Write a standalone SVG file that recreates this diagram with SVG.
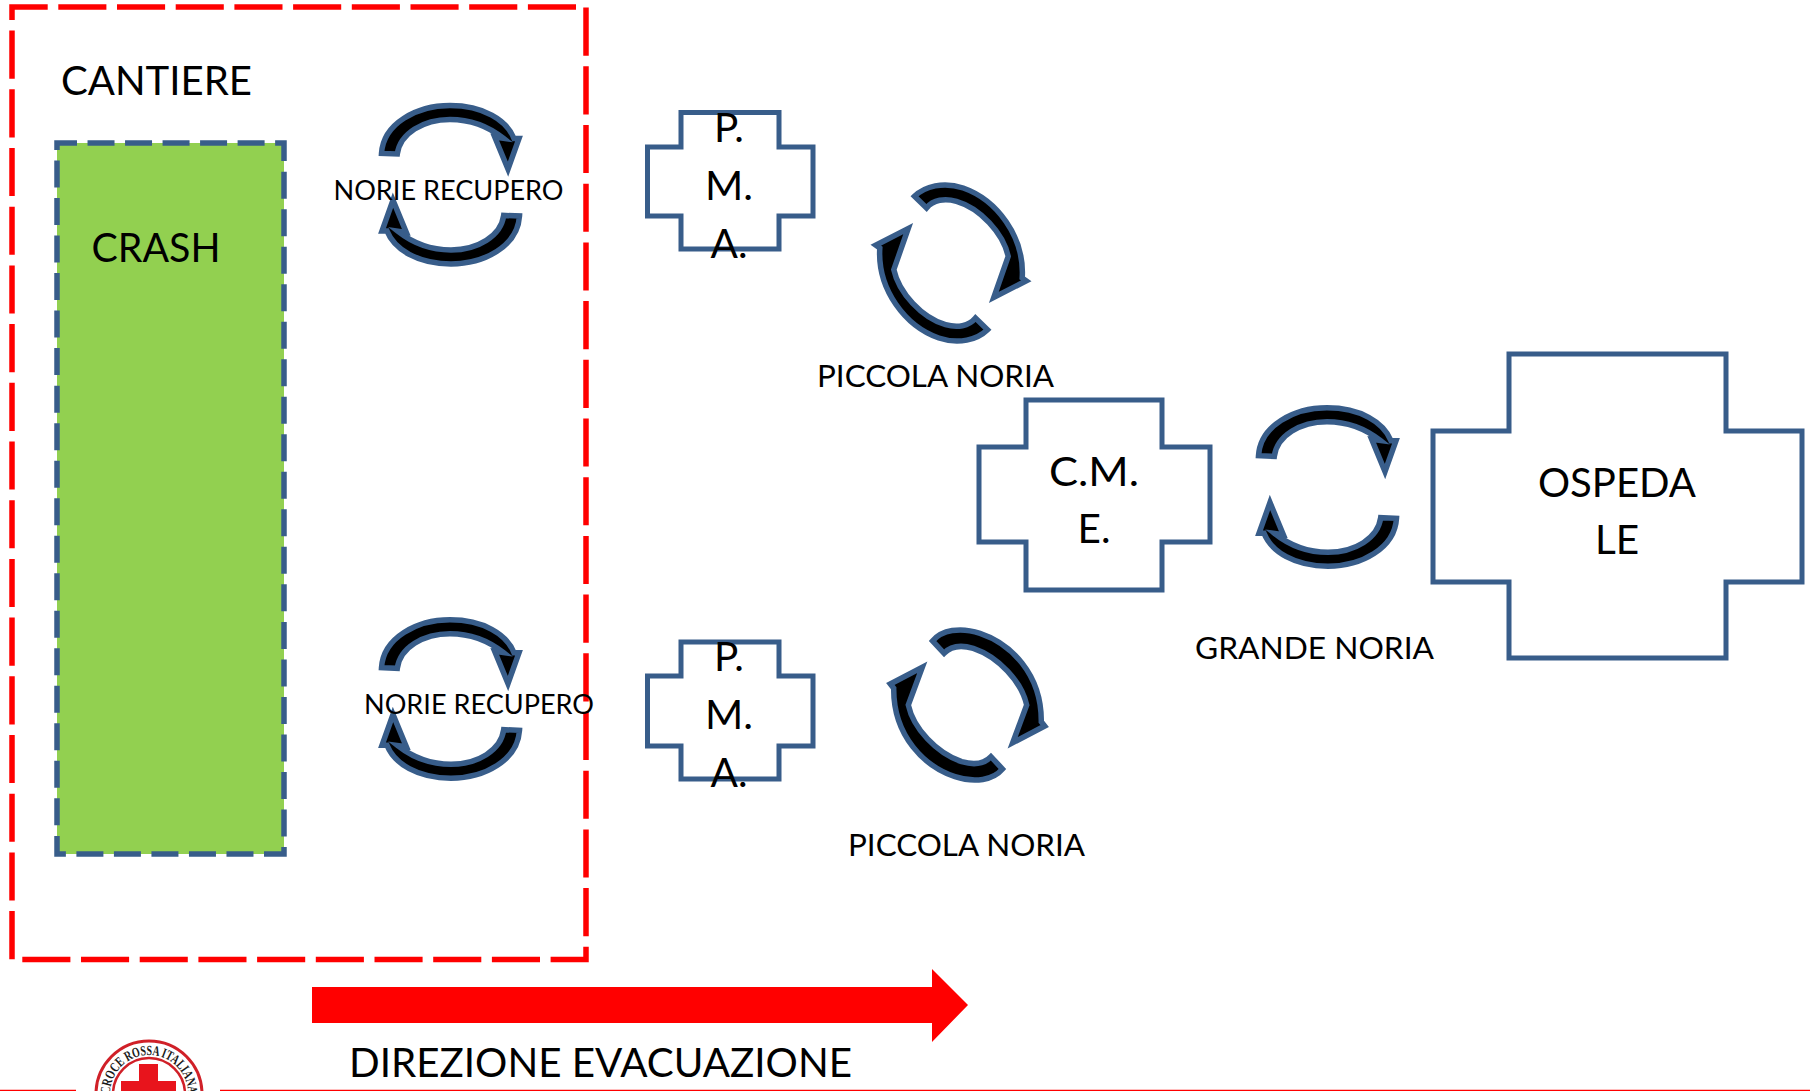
<svg xmlns="http://www.w3.org/2000/svg" xmlns:xlink="http://www.w3.org/1999/xlink" width="1810" height="1091" viewBox="0 0 1810 1091">
<style>
text{font-family:Lato,"Open Sans","Liberation Sans",sans-serif;fill:#000}
.l{font-size:40.500px}.s{font-size:27.200px}.m{font-size:31.400px}.c{text-anchor:middle}
.cross{fill:#fff;stroke:#385D8A;stroke-width:5}
.arc{fill:#000;stroke:#385D8A;stroke-width:5.500;stroke-linejoin:miter}
</style>
<defs>
<path id="half" d="M-69-31.300C-67.200-61.300-33.800-79.200-.5-79.200C32.800-79.200 56.200-64.700 63.500-46.300L68.500-46.300L57.500-15.500L44.200-47.700L52.800-46.500C36.200-59.700 19.500-65.300-.5-65.300C-27.200-65.300-50.500-51.300-53.200-30.700Z"/>
<path id="halfA" d="M-36.500-66.700C-26.200-76.700-7.800-81.700 12.200-75C45.500-63.300 73.800-26.700 71.200 15L75.200 17.800L42.800 34.500L57.200-6.700C52.200-30 28.800-55 5.500-61.700C-6.200-65-17.800-63.300-24.500-55Z"/>
<path id="halfB" d="M-35-64C-25.800-75-7.500-78.300 12.500-71.700C42.500-61.700 74.200-31.700 73.800 16.700L77.200 21L45.200 37.800L59.200 0C54.200-23.300 30.800-48.300 5.800-56.700C-5.800-60-15.800-60-23.500-51.700Z"/>
<path id="logoArc" d="M110 1094A39 39 0 0 1 188 1094"/>
</defs>
<g id="cantiere">
<rect x="12" y="7" width="574" height="952.500" fill="none" stroke="#f00" stroke-width="5.500" stroke-dasharray="48.100 10.600" stroke-dashoffset="12.400"/>
<text class="l" x="61" y="95" textLength="191" lengthAdjust="spacingAndGlyphs">CANTIERE</text>
</g>
<g id="crash">
<rect x="57" y="143" width="227" height="711" fill="#92D050" stroke="none"/>
<rect x="57" y="143" width="227" height="711" fill="none" stroke="#385D8A" stroke-width="5.500" stroke-dasharray="27 10.520" stroke-dashoffset="7"/>
<text class="l" x="91.500" y="262" textLength="129" lengthAdjust="spacingAndGlyphs">CRASH</text>
</g>
<g id="connectors">
<g class="arc">
<use href="#half" transform="translate(450.500 184.700)"/>
<use href="#half" transform="translate(450.500 184.700) rotate(180)"/>
<use href="#half" transform="translate(450.500 699)"/>
<use href="#half" transform="translate(450.500 699) rotate(180)"/>
<use href="#half" transform="translate(1327.500 487)"/>
<use href="#half" transform="translate(1327.500 487) rotate(180)"/>
<use href="#halfA" transform="translate(951 263)"/>
<use href="#halfA" transform="translate(951 263) rotate(180)"/>
<use href="#halfB" transform="translate(967.500 705)"/>
<use href="#halfB" transform="translate(967.500 705) rotate(180)"/>
</g>
</g>
<g id="norie1"><text class="s" x="333.500" y="200" textLength="230" lengthAdjust="spacingAndGlyphs">NORIE RECUPERO</text></g>
<g id="norie2"><text class="s" x="364" y="714" textLength="230" lengthAdjust="spacingAndGlyphs">NORIE RECUPERO</text></g>
<g id="pma1">
<path class="cross" d="M681 112.500H779V147H813V216H779V249H681V216H647.500V147H681Z"/>
<text class="l c" x="729" y="142">P.</text><text class="l c" x="729" y="200" textLength="48" lengthAdjust="spacingAndGlyphs">M.</text><text class="l c" x="729" y="258">A.</text>
</g>
<g id="pma2">
<path class="cross" d="M681 642H779V676H813V746H779V779H681V746H647.500V676H681Z"/>
<text class="l c" x="729" y="671">P.</text><text class="l c" x="729" y="729" textLength="48" lengthAdjust="spacingAndGlyphs">M.</text><text class="l c" x="729" y="787">A.</text>
</g>
<g id="cme">
<path class="cross" d="M1026 400H1162V447H1210V542H1162V590H1026V542H979V447H1026Z"/>
<text class="l c" x="1094" y="486" textLength="90" lengthAdjust="spacingAndGlyphs">C.M.</text><text class="l c" x="1094" y="543">E.</text>
</g>
<g id="ospedale">
<path class="cross" d="M1509 354H1726V431H1802V582H1726V658H1509V582H1433V431H1509Z"/>
<text class="l c" x="1617" y="497" textLength="158" lengthAdjust="spacingAndGlyphs">OSPEDA</text><text class="l c" x="1617" y="554">LE</text>
</g>
<g id="labels">
<text class="m" x="817" y="387" textLength="237" lengthAdjust="spacingAndGlyphs">PICCOLA NORIA</text>
<text class="m" x="848" y="856" textLength="237" lengthAdjust="spacingAndGlyphs">PICCOLA NORIA</text>
<text class="m" x="1195" y="659" textLength="239" lengthAdjust="spacingAndGlyphs">GRANDE NORIA</text>
</g>
<g id="direzione">
<path fill="#f00" d="M312 987H932V969L968 1005L932 1042V1023H312Z"/>
<text class="l" x="349" y="1077" textLength="503" lengthAdjust="spacingAndGlyphs">DIREZIONE EVACUAZIONE</text>
</g>
<g id="footer">
<path d="M0 1090.500H76M220 1090.500H1810" stroke="#f00" stroke-width="1.500" fill="none"/>
<circle cx="149" cy="1094" r="53" fill="#fff" stroke="#d02028" stroke-width="3"/>
<circle cx="149" cy="1094" r="36" fill="#fff" stroke="#d02028" stroke-width="2.500"/>
<path fill="#e8141c" d="M139 1064H158V1081H176V1091H121V1081H139Z"/>
<text font-size="14" textLength="122" lengthAdjust="spacingAndGlyphs" style="font-family:'Liberation Serif',serif;font-weight:700;fill:#1a1a1a"><textPath href="#logoArc" startOffset="0" textLength="122" lengthAdjust="spacingAndGlyphs">CROCE ROSSA ITALIANA</textPath></text>
</g>
</svg>
